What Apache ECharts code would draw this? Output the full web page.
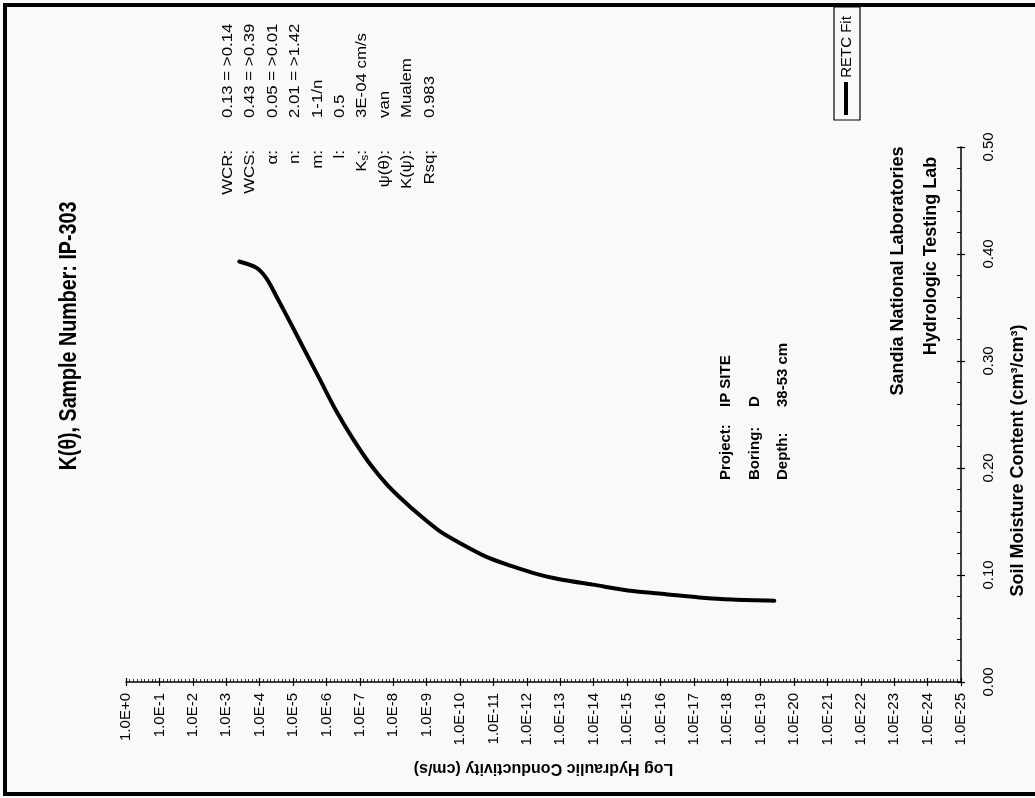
<!DOCTYPE html>
<html><head><meta charset="utf-8">
<script src="https://cdn.jsdelivr.net/npm/echarts@6/dist/echarts.min.js"></script>
<style>html,body{margin:0;padding:0;background:#f9f9f9}#c{width:1035px;height:798px}</style>
</head><body><div id="c"></div>
<script>
// log10 of hydraulic conductivity (cm/s) and soil moisture content (cm3/cm3)
const logK = [-3.39,-3.91,-4.21,-4.51,-4.90,-5.30,-5.80,-6.30,-6.80,-7.30,-7.80,-8.25,-8.79,-9.39,-9.99,-10.79,-11.58,-12.18,-12.98,-13.97,-15.17,-16.17,-17.16,-18.16,-19.41];
const theta = [0.393,0.387,0.377,0.360,0.337,0.313,0.283,0.253,0.227,0.204,0.185,0.171,0.156,0.141,0.130,0.117,0.108,0.102,0.096,0.091,0.085,0.082,0.079,0.077,0.076];
const seriesName = 'RETC Fit';
const paramLabels = ['WCR:','WCS:','α:','n:','m:','l:','{a|K}{b|s}{a|:}','ψ(θ):','K(ψ):','Rsq:'];
const paramValues = ['0.13 = >0.14','0.43 = >0.39','0.05 = >0.01','2.01 = >1.42','1-1/n','0.5','3E-04 cm/s','van','Mualem','0.983'];
const infoLabels = ['Project:','Boring:','Depth:'];
const infoValues = ['IP SITE','D','38-53 cm'];
const titleText = 'K(θ), Sample Number: IP-303';
const labLines = ['Sandia National Laboratories','Hydrologic Testing Lab'];
const xName = 'Log Hydraulic Conductivity (cm/s)';
const yName = 'Soil Moisture Content (cm³/cm³)';

const FONT = 'Arial, "Liberation Sans", Helvetica, sans-serif';
const R90 = Math.PI / 2;
const chart = echarts.init(document.getElementById('c'));

function vtext(x, y, text, o) {
  o = o || {};
  return {
    type: 'text', x: x, y: y, rotation: R90, scaleX: o.sx || 1, scaleY: 1, z: 10,
    style: {
      text: text, fill: '#000', fontFamily: FONT, fontSize: o.size || 14,
      fontWeight: o.weight || 'normal', align: o.align || 'center', verticalAlign: 'middle',
      rich: o.rich
    }
  };
}

const g = [];
// page border
g.push({type:'line', shape:{x1:5,y1:3,x2:5,y2:796}, style:{stroke:'#000', lineWidth:4}});
g.push({type:'line', shape:{x1:3,y1:5,x2:1035,y2:5}, style:{stroke:'#000', lineWidth:4}});
g.push({type:'line', shape:{x1:3,y1:794,x2:1035,y2:794}, style:{stroke:'#000', lineWidth:4}});
// title
g.push(vtext(69, 336, titleText, {size: 24, weight: 'bold', sx: 0.82}));
// parameter block
const px = [228, 250, 273, 295, 318, 340, 362, 385, 407, 430];
paramLabels.forEach((t, i) => {
  g.push(vtext(px[i], 150, t, {align: 'right', size: 14, sx: 1.2,
    rich: {a: {fontSize: 14, fontFamily: FONT, lineHeight: 16}, b: {fontSize: 10, fontFamily: FONT, lineHeight: 10, verticalAlign: 'bottom'}}}));
  g.push(vtext(px[i], 118, paramValues[i], {align: 'left', size: 14, sx: 1.2}));
});
// project block
const ix = [726, 755, 783];
infoLabels.forEach((t, i) => {
  g.push(vtext(ix[i], 480, t, {align: 'left', size: 15, weight: 'bold'}));
  g.push(vtext(ix[i], 407, infoValues[i], {align: 'left', size: 15, weight: 'bold'}));
});
// lab name
g.push(vtext(898, 271, labLines[0], {size: 18, weight: 'bold'}));
g.push(vtext(931, 256, labLines[1], {size: 18, weight: 'bold'}));
// legend
g.push({type:'rect', shape:{x:834, y:7, width:26, height:113}, style:{fill:'#f9f9f9', stroke:'#000', lineWidth:1.2}, z:9});
g.push({type:'line', shape:{x1:846, y1:82, x2:846, y2:115}, style:{stroke:'#000', lineWidth:4}, z:10});
g.push(vtext(847, 47, seriesName, {size: 15}));

const baseX = {type: 'value', min: -25, max: 0, interval: 1, inverse: true, gridIndex: 0, position: 'bottom', splitLine: {show: false}};
const baseY = {type: 'value', min: 0, max: 0.5, interval: 0.1, gridIndex: 0, position: 'right', splitLine: {show: false}};

chart.setOption({
  backgroundColor: '#f9f9f9',
  animation: false,
  grid: {left: 126, right: 73, top: 147, bottom: 116, containLabel: false},
  xAxis: [
    Object.assign({}, baseX, {
      name: xName, nameLocation: 'middle', nameRotate: 180, nameGap: 78,
      nameTextStyle: {fontFamily: FONT, fontSize: 16, fontWeight: 'bold', color: '#000'},
      axisLine: {show: true, onZero: false, lineStyle: {color: '#000', width: 1.5}},
      axisTick: {show: true, inside: false, length: 4, lineStyle: {color: '#000', width: 1.2}},
      axisLabel: {show: true, rotate: 90, margin: 11, fontFamily: FONT, fontSize: 15, color: '#000',
        formatter: v => v === 0 ? '1.0E+0' : '1.0E' + v}
    }),
    Object.assign({}, baseX, {
      axisLine: {show: false, onZero: false}, axisLabel: {show: false},
      axisTick: {show: true, inside: true, length: 4, lineStyle: {color: '#000', width: 1.2}},
      minorTick: {show: true, splitNumber: 9, length: 3, lineStyle: {color: '#000', width: 0.8}}
    })
  ],
  yAxis: [
    Object.assign({}, baseY, {
      name: yName, nameLocation: 'middle', nameRotate: 90, nameGap: 48,
      nameTextStyle: {fontFamily: FONT, fontSize: 18, fontWeight: 'bold', color: '#000', padding: [0, 92, 0, 0]},
      axisLine: {show: true, onZero: false, lineStyle: {color: '#000', width: 1.5}},
      axisTick: {show: true, inside: false, length: 4, lineStyle: {color: '#000', width: 1.2}},
      axisLabel: {show: true, rotate: 90, margin: 20, fontFamily: FONT, fontSize: 15, color: '#000',
        formatter: v => v.toFixed(2)}
    }),
    Object.assign({}, baseY, {
      axisLine: {show: false, onZero: false}, axisLabel: {show: false},
      axisTick: {show: true, inside: true, length: 4, lineStyle: {color: '#000', width: 1.2}},
      minorTick: {show: true, splitNumber: 5, length: 4, lineStyle: {color: '#000', width: 1}}
    })
  ],
  series: [{
    name: seriesName, type: 'line', xAxisIndex: 0, yAxisIndex: 0,
    data: logK.map((k, i) => [k, theta[i]]),
    smooth: 0.3, showSymbol: false, symbol: 'none',
    lineStyle: {color: '#000', width: 4, cap: 'round'}
  }],
  graphic: g
});
</script></body></html>
